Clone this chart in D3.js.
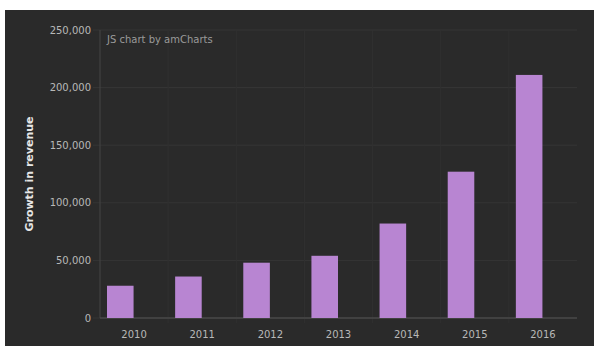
<!DOCTYPE html>
<html>
<head>
<meta charset="utf-8">
<script src="https://cdn.jsdelivr.net/npm/d3@7/dist/d3.min.js"></script>
<style>
  html, body { margin: 0; padding: 0; background: #fff; }
  svg { display: block; font-family: "DejaVu Sans", Verdana, sans-serif; }
</style>
</head>
<body>
<svg id="chart" width="594" height="346"></svg>
<script>
// data
var years = ['2010', '2011', '2012', '2013', '2014', '2015', '2016'];
var revenue = [28000, 36000, 48000, 54000, 82000, 127000, 211000];
var yTicks = [0, 50000, 100000, 150000, 200000, 250000];

var svg = d3.select('#chart');
var margin = {left: 100, right: 17, top: 30, bottom: 28};
var W = 594, H = 346;

// dark panel (white strip on top and left as in the screenshot)
svg.append('rect')
  .attr('x', 5).attr('y', 10)
  .attr('width', W - 5).attr('height', H - 10)
  .attr('fill', '#2a2a2a');

var x = d3.scaleBand()
  .domain(years)
  .range([margin.left, W - margin.right])
  .paddingInner(0).paddingOuter(0);
var y = d3.scaleLinear()
  .domain([0, 250000])
  .range([H - margin.bottom, margin.top]);

var bw = x.bandwidth();

// horizontal grid
svg.append('g').selectAll('line')
  .data(yTicks)
  .enter().append('line')
    .attr('x1', margin.left - 7).attr('x2', W - margin.right)
    .attr('y1', d => y(d)).attr('y2', d => y(d))
    .attr('stroke', '#353535')
    .attr('stroke-width', 1);

// vertical grid at category boundaries
svg.append('g').selectAll('line')
  .data(years.slice(1))
  .enter().append('line')
    .attr('x1', d => x(d)).attr('x2', d => x(d))
    .attr('y1', margin.top).attr('y2', H - margin.bottom + 5)
    .attr('stroke', '#303030')
    .attr('stroke-width', 1);

// y axis line
svg.append('line')
  .attr('x1', margin.left).attr('x2', margin.left)
  .attr('y1', margin.top).attr('y2', H - margin.bottom)
  .attr('stroke', '#444');

// baseline
svg.append('line')
  .attr('x1', margin.left).attr('x2', W - margin.right)
  .attr('y1', y(0)).attr('y2', y(0))
  .attr('stroke', '#555');

// bars (front face sits left of the category centre)
var barW = bw * 0.39;
svg.append('g').selectAll('rect')
  .data(revenue)
  .enter().append('rect')
    .attr('x', (d, i) => x(years[i]) + bw / 2 - barW - 0.5)
    .attr('y', d => y(d))
    .attr('width', barW)
    .attr('height', d => y(0) - y(d))
    .attr('fill', '#b885d2');

// y tick labels
svg.append('g').selectAll('text')
  .data(yTicks)
  .enter().append('text')
    .attr('x', margin.left - 9)
    .attr('y', d => y(d))
    .attr('dy', '0.35em')
    .attr('text-anchor', 'end')
    .attr('font-size', 10)
    .attr('fill', '#b8b8b8')
    .text(d => d3.format(',')(d));

// x tick labels
svg.append('g').selectAll('text')
  .data(years)
  .enter().append('text')
    .attr('x', d => x(d) + bw / 2)
    .attr('y', H - margin.bottom + 20)
    .attr('text-anchor', 'middle')
    .attr('font-size', 10)
    .attr('fill', '#b8b8b8')
    .text(d => d);

// axis title
svg.append('text')
  .attr('transform', 'translate(33,' + ((margin.top + H - margin.bottom) / 2) + ') rotate(-90)')
  .attr('text-anchor', 'middle')
  .attr('font-size', 11)
  .attr('font-weight', 'bold')
  .attr('fill', '#e6e6e6')
  .text('Growth in revenue');

// credit
svg.append('text')
  .attr('x', margin.left + 7)
  .attr('y', 43)
  .attr('font-size', 10)
  .attr('fill', '#9a9a9a')
  .text('JS chart by amCharts');
</script>
</body>
</html>
